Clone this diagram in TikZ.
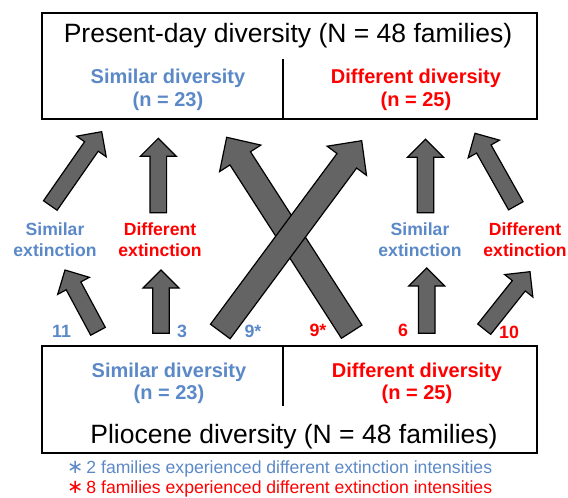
\documentclass[tikz,border=0pt]{standalone}
\usepackage{fontspec}
\setmainfont{Liberation Sans}
\newfontfamily\starfont{DejaVu Sans}
\usetikzlibrary{calc}
\definecolor{myblue}{RGB}{91,137,199}
\definecolor{myred}{RGB}{255,0,0}
\definecolor{arrowgray}{RGB}{100,100,100}
\newcommand\fsz[1]{\fontsize{#1}{#1}\selectfont}
\newcommand\footstar{{\starfont\fsz{19.5}∗}}
\newcommand\blkarrow[5]{%
  \path coordinate (hb) at ($(#2)!#5!(#1)$);
  \draw[arrowshape] ($(#1)!#3!90:(#2)$) -- ($(hb)!#3!90:(#2)$) -- ($(hb)!#4!90:(#2)$) -- (#2)
    -- ($(hb)!#4!-90:(#2)$) -- ($(hb)!#3!-90:(#2)$) -- ($(#1)!#3!-90:(#2)$) -- cycle;
}
\tikzset{
  arrowshape/.style={fill=arrowgray, draw=black, line width=1.2pt, line join=miter},
  boxframe/.style={draw=black, line width=2.2pt, minimum width=495pt, inner sep=0pt},
  divline/.style={draw=black, line width=2pt},
  titletext/.style={anchor=base, inner sep=0pt, font=\fsz{26.5}},
  divtext/.style={anchor=base, inner sep=0pt, font=\fsz{20}\bfseries},
  exttext/.style={anchor=base, inner sep=0pt, font=\fsz{17.6}\bfseries},
  numtext/.style={anchor=base, inner sep=0pt, font=\fsz{17.8}\bfseries},
  foottext/.style={anchor=base west, inner sep=0pt, font=\fsz{17.6}},
}
\begin{document}
\begin{tikzpicture}[x=1pt, y=-1pt]
\useasboundingbox (0,0) rectangle (568,498);
% boxes
\node[boxframe, minimum height=106pt] (topbox) at (289.5,66) {};
\node[boxframe, minimum height=107pt] (botbox) at (289.5,399.5) {};
\coordinate (tdivtop) at (282.7,59);
\coordinate (bdivbot) at (282.7,406);
\draw[divline] (tdivtop) -- (tdivtop |- topbox.south);
\draw[divline] (bdivbot |- botbox.north) -- (bdivbot);
% box texts
\node[titletext] (toptitle) at (288,42) {Present-day diversity (N = 48 families)};
\node[divtext, text=myblue] (tsim1) at (168,83) {Similar diversity};
\node[divtext, text=myblue] (tsim2) at (168,106) {(n = 23)};
\node[divtext, text=myred] (tdif1) at (416,83) {Different diversity};
\node[divtext, text=myred] (tdif2) at (416,106) {(n = 25)};
\node[divtext, text=myblue] (bsim1) at (169,377) {Similar diversity};
\node[divtext, text=myblue] (bsim2) at (169,399) {(n = 23)};
\node[divtext, text=myred] (bdif1) at (417,377) {Different diversity};
\node[divtext, text=myred] (bdif2) at (417,399) {(n = 25)};
\node[titletext] (bottitle) at (294,443) {Pliocene diversity (N = 48 families)};
% extinction labels
\node[exttext, text=myblue] (lsim1) at (55,235) {Similar};
\node[exttext, text=myblue] (lsim2) at (55,256) {extinction};
\node[exttext, text=myred] (ldif1) at (160,235) {Different};
\node[exttext, text=myred] (ldif2) at (160,256) {extinction};
\node[exttext, text=myblue] (rsim1) at (420,235) {Similar};
\node[exttext, text=myblue] (rsim2) at (420,256) {extinction};
\node[exttext, text=myred] (rdif1) at (525,235) {Different};
\node[exttext, text=myred] (rdif2) at (525,256) {extinction};
% numbers
\node[numtext, text=myblue] (n11) at (61.5,337) {11};
\node[numtext, text=myblue] (n3) at (182,337) {3};
\node[numtext, text=myblue] (n9a) at (253,337) {9*};
\node[numtext, text=myred] (n9b) at (318,336) {9*};
\node[numtext, text=myred] (n6) at (403,336) {6};
\node[numtext, text=myred] (n10) at (509,338) {10};
% footnotes
\node[foottext, text=myblue] (foot1) at (67,473) {\footstar\,2 families experienced different extinction intensities};
\node[foottext, text=myred] (foot2) at (67,493) {\footstar\,8 families experienced different extinction intensities};
% arrow end points
\coordinate (a1s) at (50.3,205.5);  \coordinate (a1e) at (101.7,131.7);
\coordinate (a2s) at (158.3,212.7); \coordinate (a2e) at (158.3,138.3);
\coordinate (a3s) at (425.5,212.7); \coordinate (a3e) at (425.5,139.3);
\coordinate (a4s) at (515.8,205.8); \coordinate (a4e) at (475,133.3);
\coordinate (a5s) at (98,331.3);    \coordinate (a5e) at (65,270);
\coordinate (a6s) at (161,333.3);   \coordinate (a6e) at (161,270);
\coordinate (a7s) at (426.7,333.3); \coordinate (a7e) at (426.7,268);
\coordinate (a8s) at (484.2,329.2); \coordinate (a8e) at (530,271.7);
\coordinate (bBs) at (351.7,331.7); \coordinate (bBe) at (226.7,137.3);
\coordinate (bAs) at (220.3,331.5); \coordinate (bAe) at (361.7,140.7);
% arrows
\blkarrow{a1s}{a1e}{8.3pt}{18pt}{18pt}
\blkarrow{a2s}{a2e}{8.3pt}{18pt}{18pt}
\blkarrow{a3s}{a3e}{8.3pt}{18pt}{18pt}
\blkarrow{a4s}{a4e}{8.3pt}{18pt}{18pt}
\blkarrow{a5s}{a5e}{8.3pt}{18pt}{18pt}
\blkarrow{a6s}{a6e}{8.3pt}{18pt}{18pt}
\blkarrow{a7s}{a7e}{8.3pt}{18pt}{18pt}
\blkarrow{a8s}{a8e}{8.3pt}{18pt}{18pt}
\blkarrow{bBs}{bBe}{12.2pt}{24.5pt}{25pt}
\blkarrow{bAs}{bAe}{12.2pt}{24.5pt}{25pt}
\end{tikzpicture}
\end{document}
